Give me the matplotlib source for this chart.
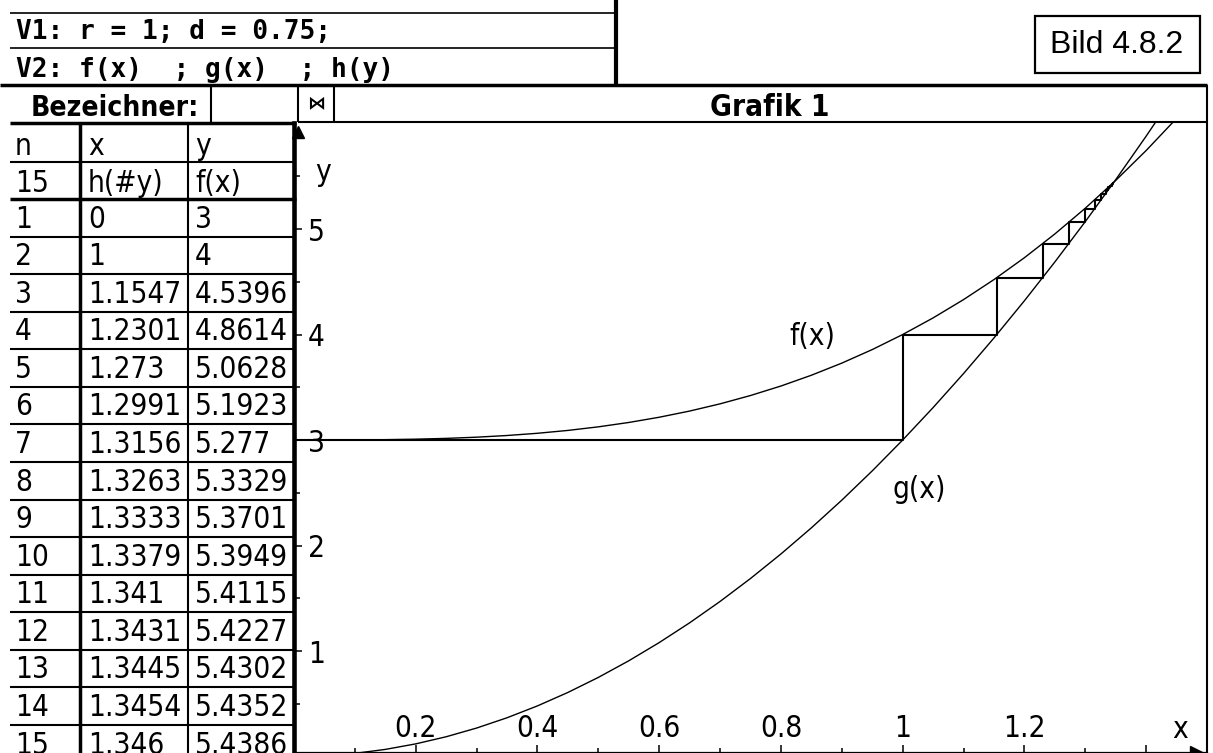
import matplotlib
matplotlib.use("Agg")
import os
import matplotlib.pyplot as plt
from matplotlib import font_manager
from matplotlib.font_manager import FontProperties
from matplotlib.textpath import TextPath
from matplotlib.ticker import FixedLocator, FixedFormatter
from matplotlib.patches import Rectangle

W, H = 1213, 753

# cobweb table: x = h(#y), y = f(x)
N_VALS = list(range(1, 16))
X_VALS = [0, 1, 1.1547, 1.2301, 1.273, 1.2991, 1.3156, 1.3263, 1.3333,
          1.3379, 1.341, 1.3431, 1.3445, 1.3454, 1.346]
Y_VALS = [3, 4, 4.5396, 4.8614, 5.0628, 5.1923, 5.277, 5.3329, 5.3701,
          5.3949, 5.4115, 5.4227, 5.4302, 5.4352, 5.4386]

# curves as plotted
F_X = [0.10, 0.15, 0.20, 0.25, 0.30, 0.35, 0.40, 0.45, 0.50, 0.55, 0.60, 0.65,
       0.70, 0.75, 0.80, 0.85, 0.90, 0.95, 1.00, 1.05, 1.10, 1.15, 1.20, 1.25,
       1.30, 1.35, 1.40, 1.45]
F_Y = [3.001, 3.0034, 3.008, 3.0156, 3.027, 3.0429, 3.064, 3.0911, 3.125,
       3.1664, 3.216, 3.2746, 3.343, 3.4219, 3.512, 3.6141, 3.729, 3.8574,
       4.0, 4.1576, 4.331, 4.5209, 4.728, 4.9531, 5.197, 5.4604, 5.744, 6.0486]
G_X = [0.05, 0.10, 0.15, 0.20, 0.25, 0.30, 0.35, 0.40, 0.45, 0.50, 0.55, 0.60,
       0.65, 0.70, 0.75, 0.80, 0.85, 0.90, 0.95, 1.00, 1.05, 1.10, 1.15, 1.20,
       1.25, 1.30, 1.35, 1.40, 1.45]
G_Y = [0.0075, 0.03, 0.0675, 0.12, 0.1875, 0.27, 0.3675, 0.48, 0.6075, 0.75,
       0.9075, 1.08, 1.2675, 1.47, 1.6875, 1.92, 2.1675, 2.43, 2.7075, 3.0,
       3.3075, 3.63, 3.9675, 4.32, 4.6875, 5.07, 5.4675, 5.88, 6.3075]

XTICKS = [0.2, 0.4, 0.6, 0.8, 1.0, 1.2, 1.4]
XTICK_LABELS = ["0.2", "0.4", "0.6", "0.8", "1", "1.2", ""]
YTICKS = [1, 2, 3, 4, 5]
YTICK_LABELS = ["1", "2", "3", "4", "5"]

LINE_V1 = "V1: r = 1; d = 0.75;"
LINE_V2 = "V2: f(x)  ; g(x)  ; h(y)"
HEAD1 = ["n", "x", "y"]
HEAD2 = ["15", "h(#y)", "f(x)"]

BAD = ("bold", "italic", "oblique", "light", "semi", "extra", "black",
       "medium", "thin", "ultra")


# the screen font is tall and narrow: take a condensed face if one exists
def pick_font():
    found = []
    for f in font_manager.fontManager.ttflist:
        n = os.path.basename(f.fname).lower()
        if ("condensed" in n or "narrow" in n) and not any(b in n for b in BAD):
            found.append(f.fname)
    for pref in ("liberationsansnarrow", "dejavusanscondensed", "notosans",
                 "roboto", "opensans"):
        for fn in found:
            if pref in os.path.basename(fn).lower().replace("-", "").replace("_", ""):
                return fn
    return found[0] if found else None


def pick_bold(fn):
    if fn is None:
        return None
    stem = os.path.splitext(os.path.basename(fn))[0].lower()
    folder = os.path.dirname(fn)
    skip = ("italic", "oblique", "semi", "extra", "ultra")
    for f in font_manager.fontManager.ttflist:
        n = os.path.basename(f.fname).lower()
        if (os.path.dirname(f.fname) == folder and "bold" in n
                and not any(s in n for s in skip)
                and n.startswith(stem.split("-")[0])
                and ("condensed" in n or "narrow" in n)):
            return f.fname
    return None


REG_FILE = pick_font()
BOLD_FILE = pick_bold(REG_FILE)
if REG_FILE:
    BASE = FontProperties(fname=REG_FILE)
else:
    BASE = FontProperties(family="DejaVu Sans Mono")
BOLD = FontProperties(fname=BOLD_FILE) if BOLD_FILE else None

# size it so "1.1547" is about 88 px wide like on screen
w100 = TextPath((0, 0), "1.1547", size=100, prop=BASE).get_extents().width
FS = min(26, 88 * 72 / w100)


def sfont(bold=False, scale=1.0):
    if bold and BOLD is not None:
        fp = BOLD.copy()
    else:
        fp = BASE.copy()
        if bold:
            fp.set_weight("bold")
    fp.set_size(FS * scale)
    return fp


# fixed pitch face for the command lines (about 15.7 px per character)
MONO = FontProperties(family="DejaVu Sans Mono", size=18.8, weight="bold")

fig = plt.figure(figsize=(W / 100, H / 100), dpi=100)

# screen chrome in pixel coordinates
bg = fig.add_axes([0, 0, 1, 1])
bg.set_xlim(0, W)
bg.set_ylim(H, 0)
bg.axis("off")


def hline(y, x0, x1, lw=1.5):
    bg.plot([x0, x1], [y, y], color="black", lw=lw, solid_capstyle="butt")


def vline(x, y0, y1, lw=1.5):
    bg.plot([x, x], [y0, y1], color="black", lw=lw, solid_capstyle="butt")


# V1 / V2 box
hline(13, 10, 616, 1.2)
hline(48, 10, 616, 1.2)
hline(85, 0, 1207, 2.5)
vline(616, 0, 85, 3.0)
bg.text(16, 39, LINE_V1, fontproperties=MONO, va="baseline")
bg.text(16, 77, LINE_V2, fontproperties=MONO, va="baseline")

# Bezeichner row
bg.text(31, 116, "Bezeichner:", fontproperties=sfont(True, 0.95), va="baseline")
vline(211, 85, 122, 1.5)
vline(298, 85, 122, 1.5)
vline(334, 85, 122, 1.5)
bg.text(316, 104, "\u22c8", family="DejaVu Sans", fontsize=13,
        ha="center", va="center", fontweight="bold")
bg.text(770, 116, "Grafik 1", fontproperties=sfont(True), ha="center",
        va="baseline")
hline(122, 298, 1207, 1.5)
vline(1207, 85, H, 1.5)

# Bild label
bg.add_patch(Rectangle((1035, 16), 165, 57, fill=False, lw=1.6,
                       edgecolor="black"))
bg.text(1117, 45, "Bild 4.8.2", family="Liberation Sans", fontsize=23,
        ha="center", va="center")

# table
row_top = 199.0
row_h = 37.57
col_x = [15, 88, 195]
hline(123, 10, 296, 2.5)
hline(161.7, 10, 296, 1.5)
hline(row_top, 10, 296, 2.5)
for k in range(1, 15):
    hline(row_top + k * row_h, 10, 296, 1.5)
vline(80, 123, H, 2.5)
vline(188, 123, H, 1.5)
for cx, t in zip(col_x, HEAD1):
    bg.text(cx, 154.5, t, fontproperties=sfont(), va="baseline")
for cx, t in zip(col_x, HEAD2):
    bg.text(cx, 192, t, fontproperties=sfont(), va="baseline")
for i, (n, xv, yv) in enumerate(zip(N_VALS, X_VALS, Y_VALS)):
    base = row_top + (i + 1) * row_h - 9
    for cx, t in zip(col_x, [str(n), f"{xv:g}", f"{yv:g}"]):
        bg.text(cx, base, t, fontproperties=sfont(), va="baseline")

# graph
ax = fig.add_axes([294 / W, (H - 752) / H, (1207 - 294) / W, (752 - 123) / H])
ax.set_facecolor("none")
ax.set_xlim(0, 1.5)
ax.set_ylim(0.043, 6.005)

ax.plot(F_X, F_Y, color="black", lw=1.0)
ax.plot(G_X, G_Y, color="black", lw=1.0)

# cobweb: horizontal to g, vertical to f
web_x, web_y = [X_VALS[0]], [Y_VALS[0]]
for i in range(1, len(X_VALS)):
    web_x += [X_VALS[i], X_VALS[i]]
    web_y += [Y_VALS[i - 1], Y_VALS[i]]
ax.plot(web_x, web_y, color="black", lw=1.5)

ax.text(0.851, 3.98, "f(x)", fontproperties=sfont(), ha="center", va="center")
ax.text(1.028, 2.53, "g(x)", fontproperties=sfont(), ha="center", va="center")

for side in ["top", "right"]:
    ax.spines[side].set_visible(False)
ax.spines["left"].set_linewidth(3.3)
ax.spines["bottom"].set_linewidth(0.9)

ax.xaxis.set_major_locator(FixedLocator(XTICKS))
ax.xaxis.set_major_formatter(FixedFormatter(XTICK_LABELS))
ax.xaxis.set_minor_locator(FixedLocator([0.1, 0.3, 0.5, 0.7, 0.9, 1.1, 1.3]))
ax.yaxis.set_major_locator(FixedLocator(YTICKS))
ax.yaxis.set_major_formatter(FixedFormatter(YTICK_LABELS))
ax.yaxis.set_minor_locator(FixedLocator([0.5, 1.5, 2.5, 3.5, 4.5, 5.5]))

ax.tick_params(axis="x", which="major", direction="in", length=5, width=1.1,
               pad=-10.5)
ax.tick_params(axis="x", which="minor", direction="in", length=2.7, width=1.1)
ax.tick_params(axis="y", which="major", direction="in", length=6, width=1.1,
               pad=-10)
ax.tick_params(axis="y", which="minor", direction="in", length=4.4, width=1.1)
for t in ax.xaxis.get_major_ticks():
    t.label1.set_fontproperties(sfont())
    t.label1.set_verticalalignment("baseline")
for t in ax.yaxis.get_major_ticks():
    t.label1.set_fontproperties(sfont())
    t.label1.set_horizontalalignment("left")
    t.label1.set_verticalalignment("center_baseline")

ax.set_xlabel("x", fontproperties=sfont())
ax.xaxis.set_label_coords(0.970, 0.035)
ax.xaxis.label.set_va("center")
ax.set_ylabel("y", fontproperties=sfont(), rotation=0)
ax.yaxis.set_label_coords(0.032, 0.922)
ax.yaxis.label.set_va("center")
ax.yaxis.label.set_ha("center")

# axis arrows
ax.plot([0.988], [0.0], marker=">", color="black", markersize=8,
        transform=ax.transAxes, clip_on=False)
ax.plot([0.004], [0.985], marker="^", color="black", markersize=9,
        transform=ax.transAxes, clip_on=False)

fig.savefig("out.png", dpi=100)
